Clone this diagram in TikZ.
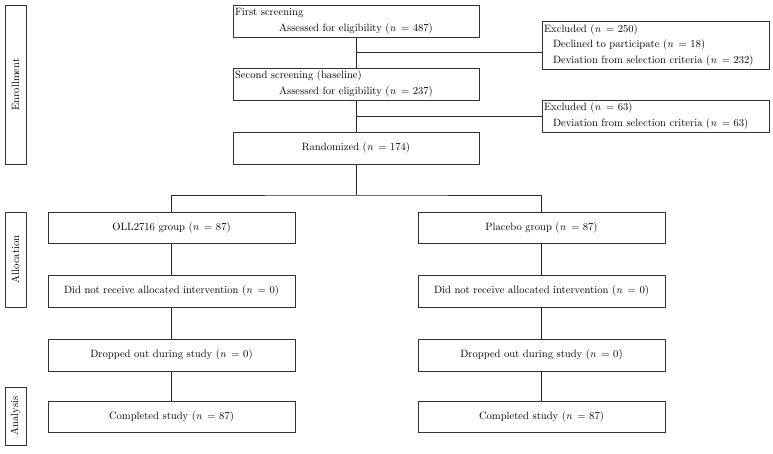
\documentclass[tikz,border=0pt]{standalone}
\usepackage{fontspec}
\begin{document}
\begin{tikzpicture}[x=1pt,y=-1pt,
  box/.style={draw=black!80,line width=0.8pt,rectangle,inner sep=0pt,font=\fontsize{10.6}{15.5}\selectfont},
  lab/.style={draw=black!80,line width=0.8pt,rectangle,inner sep=0pt,rotate=90,font=\fontsize{10.6}{12}\selectfont},
  con/.style={draw=black!85,line width=0.8pt}]
\useasboundingbox (0,0) rectangle (773,453);
% enrollment
\node[box,minimum width=246,minimum height=32,text width=242,align=left] (fs) at (356,21)
  {First screening\\\makebox[242pt]{Assessed for eligibility (\textit{n}\, = 487)}};
\node[box,minimum width=246,minimum height=32,text width=242,align=left] (ss) at (356,84)
  {Second screening (baseline)\\\makebox[242pt]{Assessed for eligibility (\textit{n}\, = 237)}};
\node[box,minimum width=246,minimum height=32] (rand) at (356,148)
  {Randomized (\textit{n}\, = 174)};
\node[box,minimum width=227,minimum height=48,text width=223,align=left] (ex1) at (655.5,45)
  {Excluded (\textit{n}\, = 250)\\\hspace*{9pt}Declined to participate (\textit{n}\, = 18)\\\hspace*{9pt}Deviation from selection criteria (\textit{n}\, = 232)};
\node[box,minimum width=227,minimum height=32,text width=223,align=left] (ex2) at (655.5,116)
  {Excluded (\textit{n}\, = 63)\\\hspace*{9pt}Deviation from selection criteria (\textit{n}\, = 63)};
% left column
\node[box,minimum width=247,minimum height=31] (g1) at (171.5,227.5) {OLL2716 group (\textit{n}\, = 87)};
\node[box,minimum width=247,minimum height=32] (r1) at (171.5,291) {Did not receive allocated intervention (\textit{n}\, = 0)};
\node[box,minimum width=247,minimum height=32] (d1) at (171.5,355) {Dropped out during study (\textit{n}\, = 0)};
\node[box,minimum width=247,minimum height=31] (c1) at (171.5,416.5) {Completed study (\textit{n}\, = 87)};
% right column
\node[box,minimum width=247,minimum height=31] (g2) at (541.5,227.5) {Placebo group (\textit{n}\, = 87)};
\node[box,minimum width=247,minimum height=32] (r2) at (541.5,291) {Did not receive allocated intervention (\textit{n}\, = 0)};
\node[box,minimum width=247,minimum height=32] (d2) at (541.5,355) {Dropped out during study (\textit{n}\, = 0)};
\node[box,minimum width=247,minimum height=31] (c2) at (541.5,416.5) {Completed study (\textit{n}\, = 87)};
% side labels
\node[lab,minimum width=159,minimum height=21] (le) at (15.5,84.5) {Enrollment};
\node[lab,minimum width=95,minimum height=21] (la) at (15.5,259.5) {Allocation};
\node[lab,minimum width=58,minimum height=21] (ln) at (15.5,416) {Analysis};
% connectors
\coordinate (j1) at (356,52);
\coordinate (split) at (356,195);
\draw[con] (fs.south) -- (ss.north);
\draw[con] (ss.south) -- (rand.north);
\draw[con] (j1) -- (j1 -| ex1.west);
\draw[con] (ss.south |- ex2.west) -- (ex2.west);
\draw[con] (rand.south) -- (split);
\draw[con] (g1.north) |- (split) -| (g2.north);
\draw[con] (g1) -- (r1); \draw[con] (r1) -- (d1); \draw[con] (d1) -- (c1);
\draw[con] (g2) -- (r2); \draw[con] (r2) -- (d2); \draw[con] (d2) -- (c2);
\end{tikzpicture}
\end{document}
